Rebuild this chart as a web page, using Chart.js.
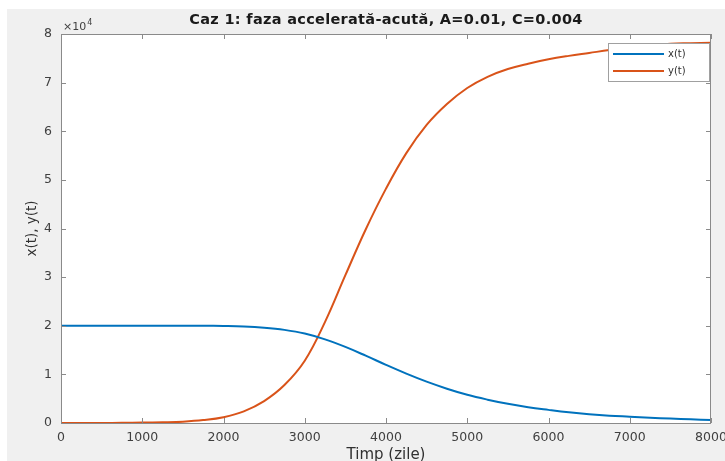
<!DOCTYPE html>
<html>
<head>
<meta charset="utf-8">
<script src="https://cdn.jsdelivr.net/npm/chart.js@4"></script>
<style>
  html, body { margin: 0; padding: 0; background: #ffffff; }
  #wrap { width: 725px; height: 461px; }
</style>
</head>
<body>
<div id="wrap"><canvas id="chart" width="725" height="461"></canvas></div>
<script>
// time axis (zile)
const timeDays = [0, 250, 500, 750, 1000, 1250, 1500, 1750, 2000, 2250, 2500, 2750, 3000, 3250, 3500, 3750,
    4000, 4250, 4500, 4750, 5000, 5250, 5500, 5750, 6000, 6250, 6500, 6750, 7000, 7250, 7500, 7750, 8000];

// x(t) - blue
const xValues = [20000, 20000, 20000, 20000, 20000, 20000, 20000, 19990, 19950, 19850, 19600, 19150, 18400, 17200,
    15650, 13850, 11950, 10150, 8500, 7050, 5800, 4800, 3950, 3250, 2700, 2200, 1800, 1500, 1300, 1100, 900, 750, 600];

// y(t) - orange
const yValues = [0, 0, 0, 30, 80, 150, 280, 600, 1200, 2400, 4500, 7800, 12800, 20800, 30400, 39800,
    48200, 55500, 61300, 65600, 68900, 71200, 72800, 73900, 74800, 75500, 76100, 76700, 77200, 77600, 78000, 78100, 78200];

const seriesLabels = ['x(t)', 'y(t)'];
const xTicksMax = 8000;
const yTicksMax = 80000;

const BLUE = '#0072BD';
const ORANGE = '#D95319';
const AXIS = '#8a8a8a';
const TEXT = '#404040';

// figure background + white plot area + box, inward ticks, x10^4, legend
const matlabLook = {
    id: 'matlabLook',
    beforeDraw(chart) {
        const ctx = chart.ctx;
        const a = chart.chartArea;
        ctx.save();
        ctx.fillStyle = '#ffffff';
        ctx.fillRect(0, 0, chart.width, chart.height);
        ctx.fillStyle = '#f0f0f0';
        ctx.fillRect(7, 9, chart.width - 7, chart.height - 9);
        ctx.fillStyle = '#ffffff';
        ctx.fillRect(a.left, a.top, a.right - a.left, a.bottom - a.top);
        ctx.restore();
    },
    afterDraw(chart) {
        const ctx = chart.ctx;
        const a = chart.chartArea;
        const xs = chart.scales.x;
        const ys = chart.scales.y;
        ctx.save();
        ctx.strokeStyle = AXIS;
        ctx.lineWidth = 1;
        ctx.strokeRect(a.left + 0.5, a.top + 0.5, a.right - a.left - 1, a.bottom - a.top);

        // inward ticks on all four sides
        ctx.beginPath();
        xs.ticks.forEach(t => {
            const px = Math.round(xs.getPixelForValue(t.value)) + 0.5;
            ctx.moveTo(px, a.bottom); ctx.lineTo(px, a.bottom - 5);
            ctx.moveTo(px, a.top); ctx.lineTo(px, a.top + 5);
        });
        ys.ticks.forEach(t => {
            const py = Math.round(ys.getPixelForValue(t.value)) + 0.5;
            ctx.moveTo(a.left, py); ctx.lineTo(a.left + 5, py);
            ctx.moveTo(a.right, py); ctx.lineTo(a.right - 5, py);
        });
        ctx.stroke();

        // exponent label
        ctx.fillStyle = TEXT;
        ctx.textBaseline = 'alphabetic';
        ctx.textAlign = 'left';
        ctx.font = '11px "DejaVu Sans"';
        ctx.fillText('\u00d710', a.left + 2, a.top - 4);
        const w = ctx.measureText('\u00d710').width;
        ctx.font = '8px "DejaVu Sans"';
        ctx.fillText('4', a.left + 2 + w + 1, a.top - 9);

        // legend box
        const lx = 608, ly = 43, lw = 101, lh = 38;
        ctx.fillStyle = '#ffffff';
        ctx.fillRect(lx, ly, lw, lh);
        ctx.strokeStyle = '#a0a0a0';
        ctx.strokeRect(lx + 0.5, ly + 0.5, lw, lh);
        ctx.font = '10px "DejaVu Sans"';
        ctx.textBaseline = 'middle';
        chart.data.datasets.forEach((ds, i) => {
            const yy = 54 + i * 17;
            ctx.strokeStyle = ds.borderColor;
            ctx.lineWidth = 2;
            ctx.beginPath();
            ctx.moveTo(613, yy); ctx.lineTo(664, yy);
            ctx.stroke();
            ctx.fillStyle = '#303030';
            ctx.fillText(ds.label, 668, yy);
        });
        ctx.restore();
    }
};

new Chart(document.getElementById('chart').getContext('2d'), {
    type: 'line',
    data: {
        datasets: [
            {
                label: seriesLabels[0],
                data: timeDays.map((t, i) => ({ x: t, y: xValues[i] })),
                borderColor: BLUE,
                borderWidth: 2,
                pointRadius: 0,
                tension: 0.4,
                fill: false
            },
            {
                label: seriesLabels[1],
                data: timeDays.map((t, i) => ({ x: t, y: yValues[i] })),
                borderColor: ORANGE,
                borderWidth: 2,
                pointRadius: 0,
                tension: 0.4,
                fill: false
            }
        ]
    },
    options: {
        responsive: false,
        animation: false,
        layout: { padding: { top: 34, left: 0, right: 14, bottom: 0 } },
        plugins: {
            legend: { display: false },
            tooltip: { enabled: false },
            title: { display: false }
        },
        scales: {
            x: {
                type: 'linear',
                min: 0,
                max: xTicksMax,
                grid: { display: false, drawTicks: false },
                border: { display: false },
                ticks: {
                    stepSize: 1000,
                    autoSkip: false,
                    maxRotation: 0,
                    padding: 7,
                    color: TEXT,
                    font: { family: 'DejaVu Sans', size: 12.5 },
                    callback: v => String(v)
                },
                title: {
                    display: true,
                    text: 'Timp (zile)',
                    color: '#303030',
                    font: { family: 'DejaVu Sans', size: 15 },
                    padding: { top: 0, bottom: -3 }
                },
                afterFit(scale) {
                    scale.height = 38;
                    scale.paddingRight = 0;
                }
            },
            y: {
                min: 0,
                max: yTicksMax,
                grid: { display: false, drawTicks: false },
                border: { display: false },
                ticks: {
                    stepSize: 10000,
                    padding: 9,
                    color: TEXT,
                    font: { family: 'DejaVu Sans', size: 12.5 },
                    callback: v => String(v / 10000)
                },
                title: {
                    display: true,
                    text: 'x(t), y(t)',
                    color: '#303030',
                    font: { family: 'DejaVu Sans', size: 13.5 },
                    padding: { top: 24, bottom: 0 }
                },
                afterFit(scale) { scale.width = 61; }
            }
        }
    },
    plugins: [matlabLook, {
        id: 'figTitle',
        afterDraw(chart) {
            const ctx = chart.ctx;
            const a = chart.chartArea;
            ctx.save();
            ctx.fillStyle = '#1a1a1a';
            ctx.font = 'bold 14.5px "DejaVu Sans"';
            ctx.letterSpacing = '0.3px';
            ctx.textAlign = 'center';
            ctx.textBaseline = 'middle';
            ctx.fillText('Caz 1: faza accelerat\u0103-acut\u0103, A=0.01, C=0.004', (a.left + a.right) / 2, 20);
            ctx.restore();
        }
    }]
});
</script>
</body>
</html>
